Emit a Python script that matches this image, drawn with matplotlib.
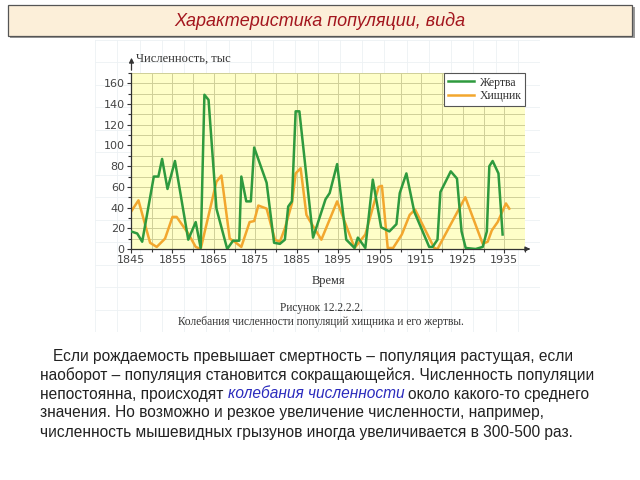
import matplotlib
matplotlib.use("Agg")
import matplotlib.pyplot as plt
from matplotlib.patches import Rectangle
from matplotlib.ticker import MultipleLocator

# prey (hare) and predator (lynx), thousands, vertices
prey_years = [1845, 1846.5, 1847.7, 1850.5, 1851.6, 1852.5, 1853.8, 1855.6, 1858.8, 1860.6,
              1861.8, 1862.7, 1863.7, 1865.6, 1868.2, 1869.6, 1871.1, 1871.6, 1872.8, 1873.9,
              1874.7, 1877.7, 1879.5, 1880.9, 1882.1, 1882.9, 1883.8, 1884.7, 1885.6, 1888.9,
              1891.9, 1892.9, 1894.7, 1896.9, 1898.9, 1899.7, 1901.5, 1903.3, 1905.3, 1907.3,
              1909, 1909.8, 1911.4, 1913.3, 1916.9, 1917.7, 1918.9, 1919.6, 1922.1, 1923.6,
              1924.7, 1925.7, 1928.1, 1929.8, 1930.8, 1931.4, 1932.2, 1933.6, 1934.6]
prey = [17, 15, 7, 70, 70, 87, 58, 85, 9, 26,
        1, 149, 144, 39, 0, 8, 8, 70, 46, 46,
        98, 64, 6, 5, 9, 41, 46, 133, 133, 11,
        48, 54, 82, 9, 1, 11, 1, 67, 21, 17,
        24, 54, 73, 36, 2, 2, 9, 55, 75, 68,
        17, 1, 0, 2, 17, 80, 85, 73, 14]

pred_years = [1845, 1846.8, 1849.6, 1851.2, 1853.2, 1855, 1856, 1858.8, 1860.6, 1861.8,
              1865.6, 1866.8, 1868.8, 1870, 1871.6, 1873.6, 1874.7, 1875.7, 1877.7, 1879.7,
              1880.9, 1882.1, 1883.8, 1884.7, 1885.9, 1887.3, 1888, 1890.9, 1894.7, 1898.9,
              1901.5, 1904.7, 1905.5, 1906.9, 1908.2, 1910.3, 1912.2, 1913.5, 1918.1, 1918.9,
              1925.6, 1929.8, 1931, 1932, 1933.4, 1935.4, 1936.2]
pred = [36, 47, 6, 2, 10, 31, 31, 15, 2, 0,
        65, 71, 10, 7, 2, 26, 27, 42, 39, 9,
        7, 20, 44, 73, 78, 33, 28, 9, 46, 1,
        14, 60, 61, 1, 1, 14, 33, 38, 1, 0,
        50, 5, 7, 18, 26, 44, 39]

title = "Характеристика популяции, вида"
caption1 = "Рисунок 12.2.2.2."
caption2 = "Колебания численности популяций хищника и его жертвы."
para = [
    [("Если рождаемость превышает смертность – популяция растущая, если", False)],
    [("наоборот – популяция становится сокращающейся. Численность популяции", False)],
    [("непостоянна, происходят", False), ("колебания численности", True),
     ("около какого-то среднего", False)],
    [("значения. Но возможно и резкое увеличение численности, например,", False)],
    [("численность мышевидных грызунов иногда увеличивается в 300-500 раз.", False)],
]

W, H = 640, 480
fig = plt.figure(figsize=(6.4, 4.8), dpi=100)
fig.patch.set_facecolor("white")


def fx(px):
    return px / W


def fy(py):
    return 1 - py / H


# title banner with a little shadow
fig.patches.append(Rectangle((fx(10), fy(38)), fx(625), 31 / H, transform=fig.transFigure,
                             facecolor="#9a9a9a", edgecolor="none", zorder=0))
fig.patches.append(Rectangle((fx(8), fy(36)), fx(624), 31 / H, transform=fig.transFigure,
                             facecolor="#fcefd9", edgecolor="#555555", lw=0.9, zorder=1))
fig.text(0.5, fy(20.5), title, ha="center", va="center", fontsize=13, style="italic",
         color="#a3161e", family="Liberation Sans")

# faint squared paper behind the pasted figure
bg = fig.add_axes([fx(95), fy(332), fx(445), 292 / H])
bg.set_xlim(0, 20)
bg.set_ylim(0, 13)
bg.xaxis.set_major_locator(MultipleLocator(1))
bg.yaxis.set_major_locator(MultipleLocator(1))
bg.grid(True, color="#edf1f4", lw=0.6)
bg.tick_params(length=0, labelbottom=False, labelleft=False)
for s in bg.spines.values():
    s.set_visible(False)

# the chart
ax = fig.add_axes([fx(131), fy(249), fx(394), 176 / H])
ax.set_facecolor("#fefec8")
ax.plot(prey_years, prey, color="#2e9a3e", lw=1.8, label="Жертва", zorder=3)
ax.plot(pred_years, pred, color="#f2a72e", lw=1.8, label="Хищник", zorder=2)
ax.set_xlim(1845, 1940)
ax.set_ylim(0, 170)
ax.xaxis.set_minor_locator(MultipleLocator(5))
ax.yaxis.set_major_locator(MultipleLocator(20))
ax.yaxis.set_minor_locator(MultipleLocator(10))
ax.set_xticks(range(1845, 1936, 10))
ax.grid(True, which="both", color="#cfcf98", lw=0.7, zorder=0)
ax.set_axisbelow(True)
for s in ["top", "right"]:
    ax.spines[s].set_visible(False)
for s in ["left", "bottom"]:
    ax.spines[s].set_color("#333333")
    ax.spines[s].set_linewidth(0.9)
ax.tick_params(which="both", direction="out", length=3, width=0.8, color="#333333",
               labelsize=8, labelcolor="#444444", pad=1.5)
ax.tick_params(which="minor", length=2)
ax.set_xlabel("Время", family="Liberation Serif", fontsize=9, color="#333333", labelpad=7)
leg = ax.legend(loc="upper right", borderaxespad=0, frameon=True, fancybox=False,
                prop={"family": "Liberation Serif", "size": 8.5}, handlelength=2.2,
                borderpad=0.3, labelspacing=0.15, handletextpad=0.5)
leg.get_frame().set_edgecolor("#555555")
leg.get_frame().set_linewidth(0.8)
leg.get_frame().set_facecolor("white")
leg.get_frame().set_alpha(1)
for t in leg.get_texts():
    t.set_color("#333333")

# axis arrows and the y label
fig.add_artist(matplotlib.patches.FancyArrowPatch((fx(525), fy(249)), (fx(533), fy(249)),
                                                  transform=fig.transFigure,
                                                  arrowstyle="-|>", mutation_scale=7,
                                                  color="#333333", lw=0.9))
fig.add_artist(matplotlib.patches.FancyArrowPatch((fx(131.5), fy(73)), (fx(131.5), fy(55)),
                                                  transform=fig.transFigure,
                                                  arrowstyle="-|>", mutation_scale=7,
                                                  color="#333333", lw=0.9))
fig.text(fx(136), fy(59), "Численность, тыс", family="Liberation Serif", fontsize=9,
         color="#333333", va="center")

# figure caption
fig.text(fx(321), fy(308), caption1, ha="center", va="center", family="Liberation Serif",
         fontsize=8.3, color="#333333")
fig.text(fx(321), fy(322), caption2, ha="center", va="center", family="Liberation Serif",
         fontsize=8.3, color="#333333")

# paragraph below, one line at a time so the italic words can sit inline
FS = 11.2
renderer = fig.canvas.get_renderer()
probe = fig.text(0, 0, "а а", fontsize=FS, family="Liberation Sans")
probe2 = fig.text(0, 0, "аа", fontsize=FS, family="Liberation Sans")
space = (probe.get_window_extent(renderer).width - probe2.get_window_extent(renderer).width) / W
probe.remove()
probe2.remove()

line_y = [356, 375, 394, 413, 432]
for i, pieces in enumerate(para):
    x = fx(53) if i == 0 else fx(40)
    for text, ital in pieces:
        kw = dict(fontsize=FS, family="Liberation Sans", va="center")
        if ital:
            kw.update(style="italic", color="#2b2bbd")
        else:
            kw.update(color="#222222")
        t = fig.text(x, fy(line_y[i]), text, **kw)
        x += t.get_window_extent(renderer).width / W + space

fig.savefig("out.png", dpi=100)
